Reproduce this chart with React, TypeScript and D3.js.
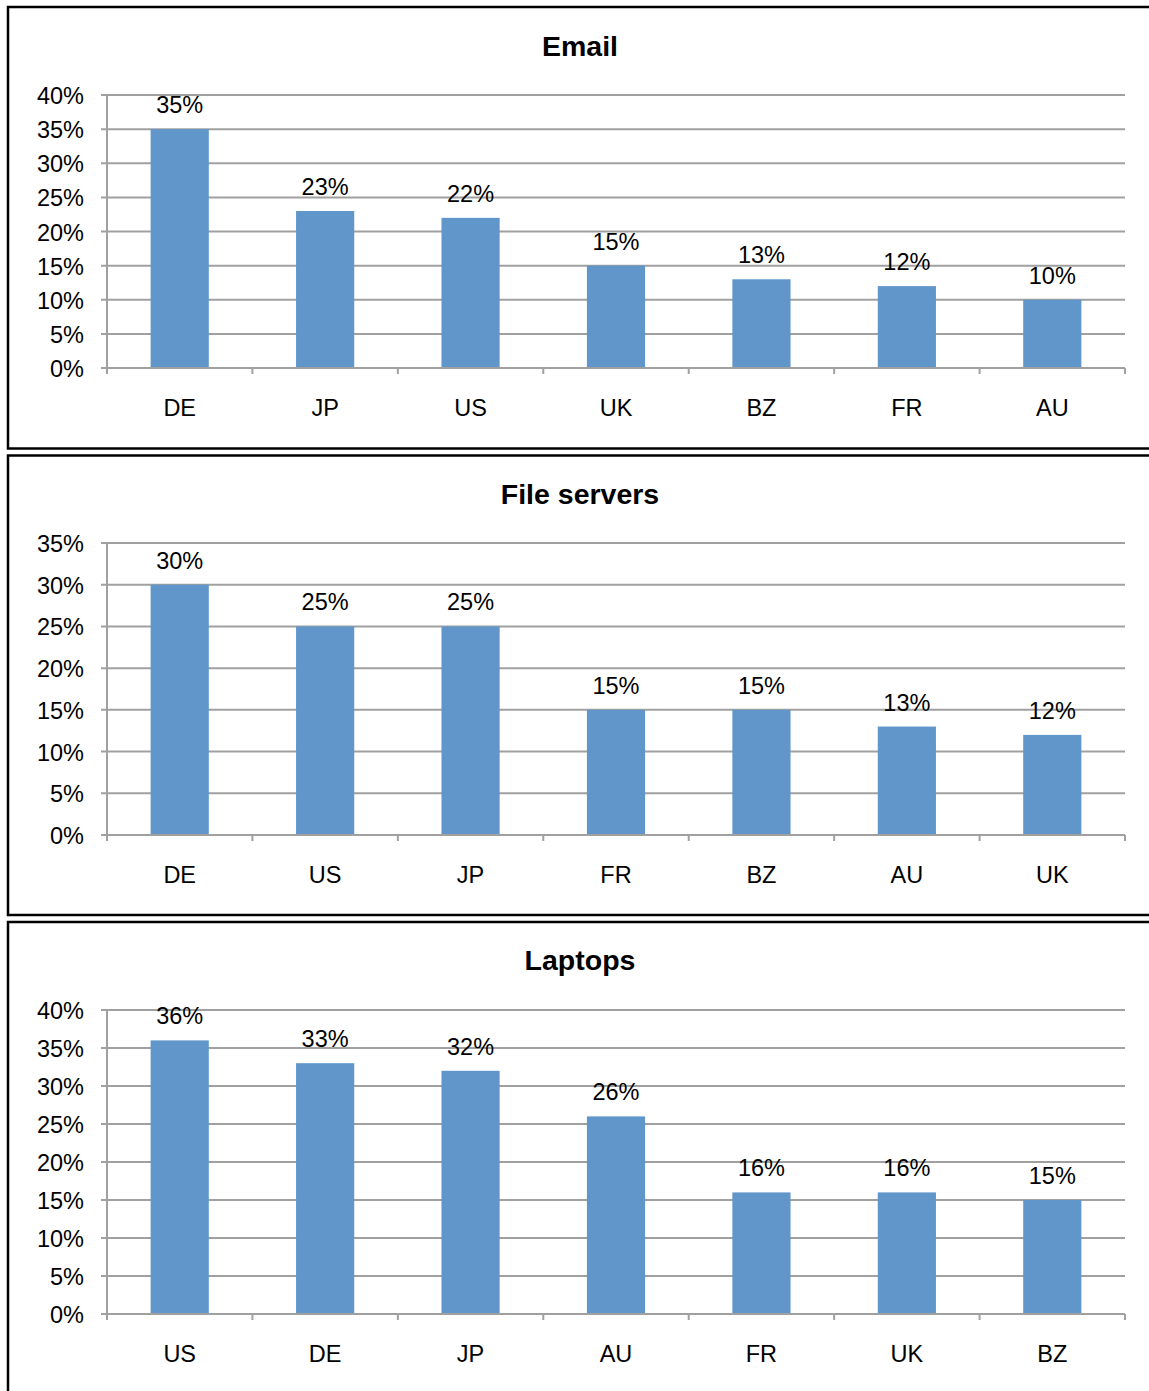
import React from "react";
import * as d3 from "d3";

// Share of incidents by country, one panel per asset type
const emailCountries = ["DE", "JP", "US", "UK", "BZ", "FR", "AU"];
const emailValues = [0.35, 0.23, 0.22, 0.15, 0.13, 0.12, 0.10];

const fileCountries = ["DE", "US", "JP", "FR", "BZ", "AU", "UK"];
const fileValues = [0.30, 0.25, 0.25, 0.15, 0.15, 0.13, 0.12];

const laptopCountries = ["US", "DE", "JP", "AU", "FR", "UK", "BZ"];
const laptopValues = [0.36, 0.33, 0.32, 0.26, 0.16, 0.16, 0.15];

const emailTicks = [0, 0.05, 0.1, 0.15, 0.2, 0.25, 0.3, 0.35, 0.4];
const fileTicks = [0, 0.05, 0.1, 0.15, 0.2, 0.25, 0.3, 0.35];
const laptopTicks = [0, 0.05, 0.1, 0.15, 0.2, 0.25, 0.3, 0.35, 0.4];

const BAR = "#6096C9";
const GRID = "#A0A0A0";
const FONT = "'Liberation Sans', Arial, sans-serif";
const LABEL_SIZE = 23.5;
const TITLE_SIZE = 28.5;
const pct = d3.format(".0%");

type PanelProps = {
  title: string;
  countries: string[];
  values: number[];
  ticks: number[];
  boxTop: number;
  boxBottom: number;
  titleY: number;
  plotTop: number;
  plotBottom: number;
};

function Panel(p: PanelProps) {
  const xLeft = 107;
  const xRight = 1125;
  const x = d3.scaleBand<string>().domain(p.countries).range([xLeft, xRight]).padding(0);
  const yMax = p.ticks[p.ticks.length - 1];
  const y = d3.scaleLinear().domain([0, yMax]).range([p.plotBottom, p.plotTop]);
  const bw = x.bandwidth() * 0.4;
  const edges = [...p.countries.map((c) => x(c) as number), xRight];

  return (
    <g>
      <rect
        x={8}
        y={p.boxTop}
        width={1160}
        height={p.boxBottom - p.boxTop}
        fill="#fff"
        stroke="#000"
        strokeWidth={2.5}
      />
      <text
        x={580}
        y={p.titleY}
        textAnchor="middle"
        dominantBaseline="central"
        fontFamily={FONT}
        fontWeight="bold"
        fontSize={TITLE_SIZE}
      >
        {p.title}
      </text>
      {p.ticks.map((t) => (
        <g key={t}>
          <line x1={101} x2={xRight} y1={y(t)} y2={y(t)} stroke={GRID} strokeWidth={2} />
          <text
            x={84}
            y={y(t) + 1}
            textAnchor="end"
            dominantBaseline="central"
            fontFamily={FONT}
            fontSize={LABEL_SIZE}
          >
            {pct(t)}
          </text>
        </g>
      ))}
      <line x1={xLeft} x2={xLeft} y1={p.plotTop} y2={p.plotBottom} stroke={GRID} strokeWidth={2} />
      {edges.map((e, i) => (
        <line key={i} x1={e} x2={e} y1={p.plotBottom} y2={p.plotBottom + 6} stroke={GRID} strokeWidth={2} />
      ))}
      {p.countries.map((c, i) => {
        const cx = (x(c) as number) + x.bandwidth() / 2;
        const top = y(p.values[i]);
        return (
          <g key={c}>
            <rect x={cx - bw / 2} y={top} width={bw} height={p.plotBottom - 1 - top} fill={BAR} />
            <text
              x={cx}
              y={top - 24}
              textAnchor="middle"
              dominantBaseline="central"
              fontFamily={FONT}
              fontSize={LABEL_SIZE}
            >
              {pct(p.values[i])}
            </text>
            <text
              x={cx}
              y={p.plotBottom + 40}
              textAnchor="middle"
              dominantBaseline="central"
              fontFamily={FONT}
              fontSize={LABEL_SIZE}
            >
              {c}
            </text>
          </g>
        );
      })}
    </g>
  );
}

export default function App() {
  return (
    <svg
      width={1149}
      height={1391}
      style={{ position: "absolute", left: 0, top: 0, background: "#fff" }}
    >
      <rect width={1149} height={1391} fill="#fff" />
      <Panel
        title="Email"
        countries={emailCountries}
        values={emailValues}
        ticks={emailTicks}
        boxTop={7}
        boxBottom={448.5}
        titleY={46}
        plotTop={95}
        plotBottom={368}
      />
      <Panel
        title="File servers"
        countries={fileCountries}
        values={fileValues}
        ticks={fileTicks}
        boxTop={455.5}
        boxBottom={915}
        titleY={494}
        plotTop={543}
        plotBottom={835}
      />
      <Panel
        title="Laptops"
        countries={laptopCountries}
        values={laptopValues}
        ticks={laptopTicks}
        boxTop={922}
        boxBottom={1400}
        titleY={960}
        plotTop={1010}
        plotBottom={1314}
      />
    </svg>
  );
}
